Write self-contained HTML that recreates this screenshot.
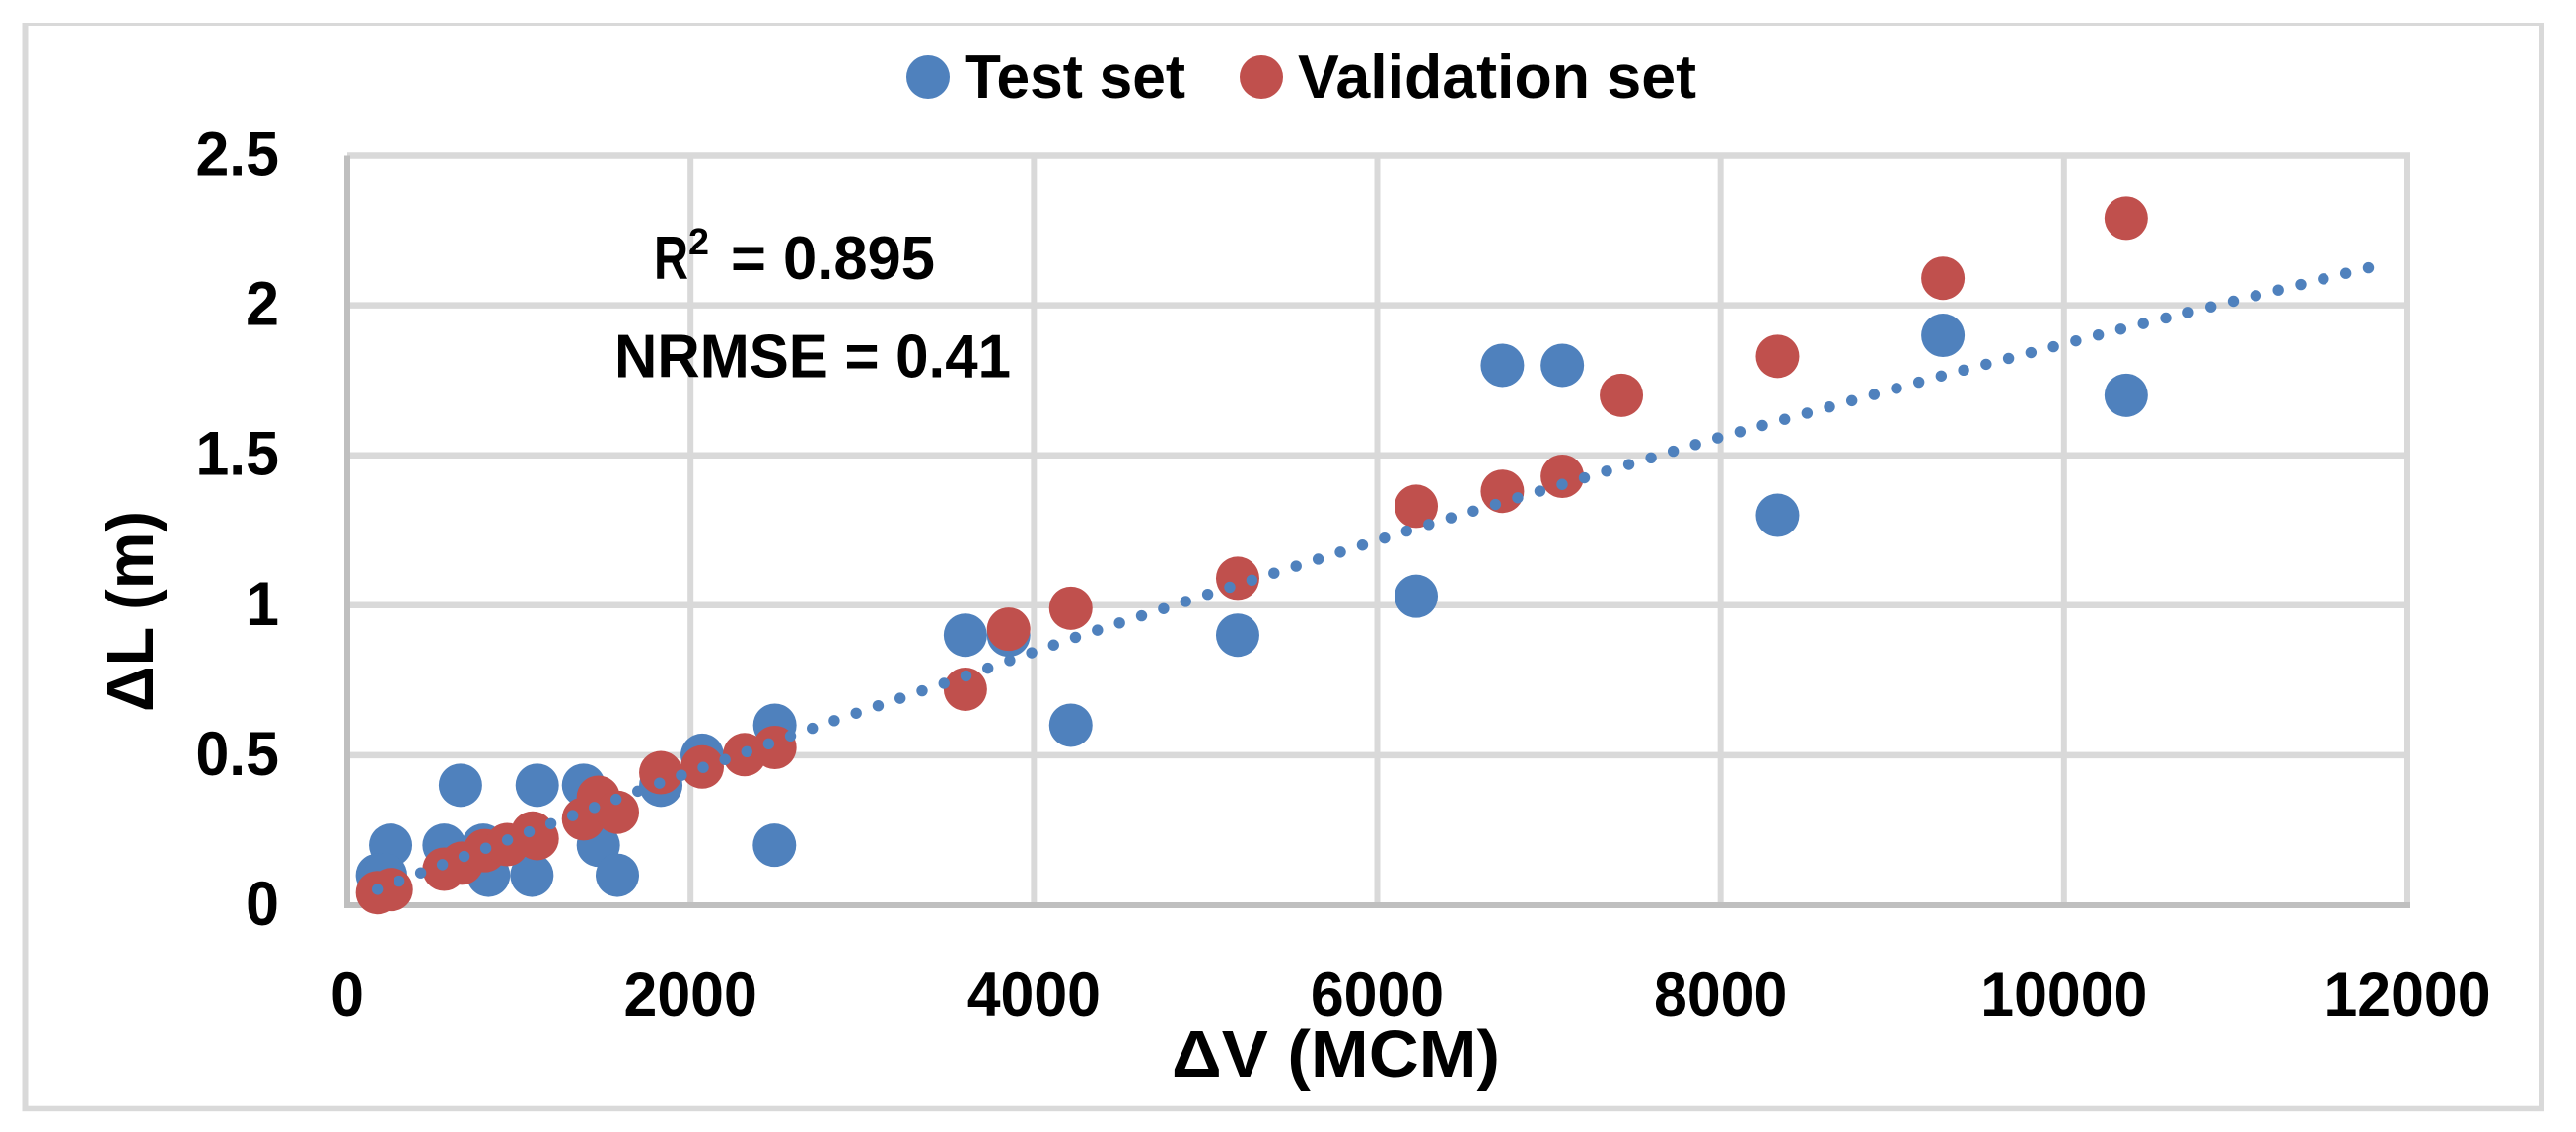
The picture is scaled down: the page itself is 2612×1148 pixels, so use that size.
<!DOCTYPE html>
<html lang="en">
<head>
<meta charset="utf-8">
<title>ΔL vs ΔV scatter chart</title>
<style>
  html, body { margin: 0; padding: 0; background: #fff; }
  svg { display: block; }
  text { font-family: "Liberation Sans", sans-serif; font-weight: bold; fill: #000; }
</style>
</head>
<body>
<svg id="chart" xmlns="http://www.w3.org/2000/svg" width="2612" height="1148" viewBox="0 0 2612 1148">
  <rect x="0" y="0" width="2612" height="1148" fill="#ffffff"/>
  <g fill="#d9d9d9">
    <rect x="22.5" y="23" width="6" height="1104"/>
    <rect x="22.5" y="23" width="2557.5" height="3"/>
    <rect x="2574" y="23" width="6" height="1104"/>
    <rect x="22.5" y="1121.7" width="2557.5" height="5.5"/>
  </g>
  <g id="grid"></g>
  <g id="axes"></g>
  <g id="test-points"></g>
  <g id="validation-points"></g>
  <g id="trend"></g>
  <g id="x-ticks"></g>
  <g id="y-ticks"></g>

  <g>
    <circle cx="941" cy="78" r="22" fill="#4f81bd"/>
    <text x="978" y="99" font-size="62" textLength="224" lengthAdjust="spacingAndGlyphs">Test set</text>
    <circle cx="1279" cy="78" r="22" fill="#c0504d"/>
    <text x="1316" y="99" font-size="62" textLength="404" lengthAdjust="spacingAndGlyphs">Validation set</text>
  </g>

  <text font-size="62"><tspan x="663" y="283" textLength="35" lengthAdjust="spacingAndGlyphs">R</tspan><tspan x="698" y="258" font-size="38" textLength="21" lengthAdjust="spacingAndGlyphs">2</tspan><tspan x="741" y="283" textLength="207" lengthAdjust="spacingAndGlyphs">= 0.895</tspan></text>
  <text x="623" y="382.5" font-size="62" textLength="402" lengthAdjust="spacingAndGlyphs">NRMSE = 0.41</text>
  <text x="1188" y="1092" font-size="67" textLength="333" lengthAdjust="spacingAndGlyphs">ΔV (MCM)</text>
  <text transform="translate(155 722) rotate(-90)" x="0" y="0" font-size="68" textLength="204" lengthAdjust="spacingAndGlyphs">ΔL (m)</text>
</svg>

<script>
const xTickValues = [0, 2000, 4000, 6000, 8000, 10000, 12000];
const yTickValues = [0, 0.5, 1, 1.5, 2, 2.5];

const testX = [660, 1107, 1377, 253, 176, 224, 565, 793, 823, 1076, 1463, 1574, 1827, 2068, 2491, 2489, 3601, 3853, 4215, 5187, 6227, 6729, 7078, 8332, 9295, 10362];
const testY = [0.40, 0.40, 0.40, 0.20, 0.10, 0.10, 0.20, 0.20, 0.10, 0.10, 0.20, 0.10, 0.40, 0.50, 0.60, 0.20, 0.90, 0.90, 0.60, 0.90, 1.03, 1.80, 1.80, 1.30, 1.90, 1.70];

const validationX = [176, 257, 565, 668, 802, 932, 1080, 1107, 1377, 1463, 1574, 1827, 2068, 2315, 2491, 3601, 3853, 4215, 5187, 6227, 6729, 7078, 7422, 8332, 9295, 10362];
const validationY = [0.042, 0.052, 0.12, 0.14, 0.182, 0.202, 0.241, 0.222, 0.288, 0.36, 0.31, 0.442, 0.461, 0.502, 0.526, 0.72, 0.92, 0.99, 1.09, 1.33, 1.38, 1.43, 1.70, 1.83, 2.09, 2.29];

const trendX = [176, 1061, 1819, 2581, 2841, 3607, 4243, 5144, 6169, 7078, 7977, 9282, 10327, 11773];
const trendY = [0.053, 0.245, 0.407, 0.564, 0.616, 0.765, 0.893, 1.061, 1.247, 1.403, 1.557, 1.764, 1.92, 2.125];

const NS = 'http://www.w3.org/2000/svg';
const plotLeft = 352, plotRight = 2441, plotTop = 157.5, plotBottom = 918;
const xMax = 12000, yMax = 2.5;
const BLUE = '#4f81bd', RED = '#c0504d';

function xScale(v) { return plotLeft + (v / xMax) * (plotRight - plotLeft); }
function yScale(v) { return plotBottom - (v / yMax) * (plotBottom - plotTop); }

function makeLine(parent, x1, y1, x2, y2, color, width) {
  const line = document.createElementNS(NS, 'line');
  line.setAttribute('x1', x1);
  line.setAttribute('y1', y1);
  line.setAttribute('x2', x2);
  line.setAttribute('y2', y2);
  line.setAttribute('stroke', color);
  line.setAttribute('stroke-width', width);
  parent.appendChild(line);
  return line;
}

const gridGroup = document.getElementById('grid');
xTickValues.forEach(function (v) {
  if (v === 0) return;
  const l = makeLine(gridGroup, xScale(v), plotTop, xScale(v), plotBottom, '#d9d9d9', 6);
  
  
});
yTickValues.forEach(function (v) {
  if (v === 0) return;
  const l = makeLine(gridGroup, plotLeft, yScale(v), plotRight + 3, yScale(v), '#d9d9d9', 6.5);
  
  
});

const axesGroup = document.getElementById('axes');
const yAxisLine = makeLine(axesGroup, plotLeft, plotTop, plotLeft, plotBottom + 3, '#bfbfbf', 6);


const xAxisLine = makeLine(axesGroup, plotLeft, plotBottom, plotRight + 3, plotBottom, '#bfbfbf', 6);



function drawPoints(groupId, xs, ys, color, pointName) {
  const g = document.getElementById(groupId);
  xs.forEach(function (xv, i) {
    const c = document.createElementNS(NS, 'circle');
    c.setAttribute('cx', xScale(xv));
    c.setAttribute('cy', yScale(ys[i]));
    c.setAttribute('r', 22);
    c.setAttribute('fill', color);
    
    
    g.appendChild(c);
  });
}
drawPoints('test-points', testX, testY, BLUE, 'test-set-point');
drawPoints('validation-points', validationX, validationY, RED, 'validation-set-point');

const trendGroup = document.getElementById('trend');
const trendGuide = document.createElementNS(NS, 'polyline');
trendGuide.setAttribute('points', trendX.map(function (xv, i) {
  return xScale(xv) + ',' + yScale(trendY[i]);
}).join(' '));
trendGuide.setAttribute('fill', 'none');
trendGuide.setAttribute('stroke', 'none');


trendGroup.appendChild(trendGuide);
const trendLength = trendGuide.getTotalLength();
const trendDotCount = Math.round(trendLength / 23.55);
for (let i = 0; i <= trendDotCount; i++) {
  const p = trendGuide.getPointAtLength(trendLength * i / trendDotCount);
  const dot = document.createElementNS(NS, 'circle');
  dot.setAttribute('cx', p.x);
  dot.setAttribute('cy', p.y);
  dot.setAttribute('r', 5.7);
  dot.setAttribute('fill', BLUE);
  
  
  trendGroup.appendChild(dot);
}

function fitLabel(t) {
  const natural = t.getComputedTextLength();
  t.setAttribute('textLength', natural * 0.965);
  t.setAttribute('lengthAdjust', 'spacingAndGlyphs');
}

const xTickGroup = document.getElementById('x-ticks');
xTickValues.forEach(function (v) {
  const t = document.createElementNS(NS, 'text');
  t.setAttribute('x', xScale(v));
  t.setAttribute('y', 1030);
  t.setAttribute('font-size', 63);
  t.setAttribute('text-anchor', 'middle');
  
  
  t.textContent = String(v);
  xTickGroup.appendChild(t);
  fitLabel(t);
});

const yTickGroup = document.getElementById('y-ticks');
yTickValues.forEach(function (v) {
  const t = document.createElementNS(NS, 'text');
  t.setAttribute('x', 283);
  t.setAttribute('y', yScale(v) + 20);
  t.setAttribute('font-size', 63);
  t.setAttribute('text-anchor', 'end');
  
  
  t.textContent = String(v);
  yTickGroup.appendChild(t);
  fitLabel(t);
});
</script>
</body>
</html>
